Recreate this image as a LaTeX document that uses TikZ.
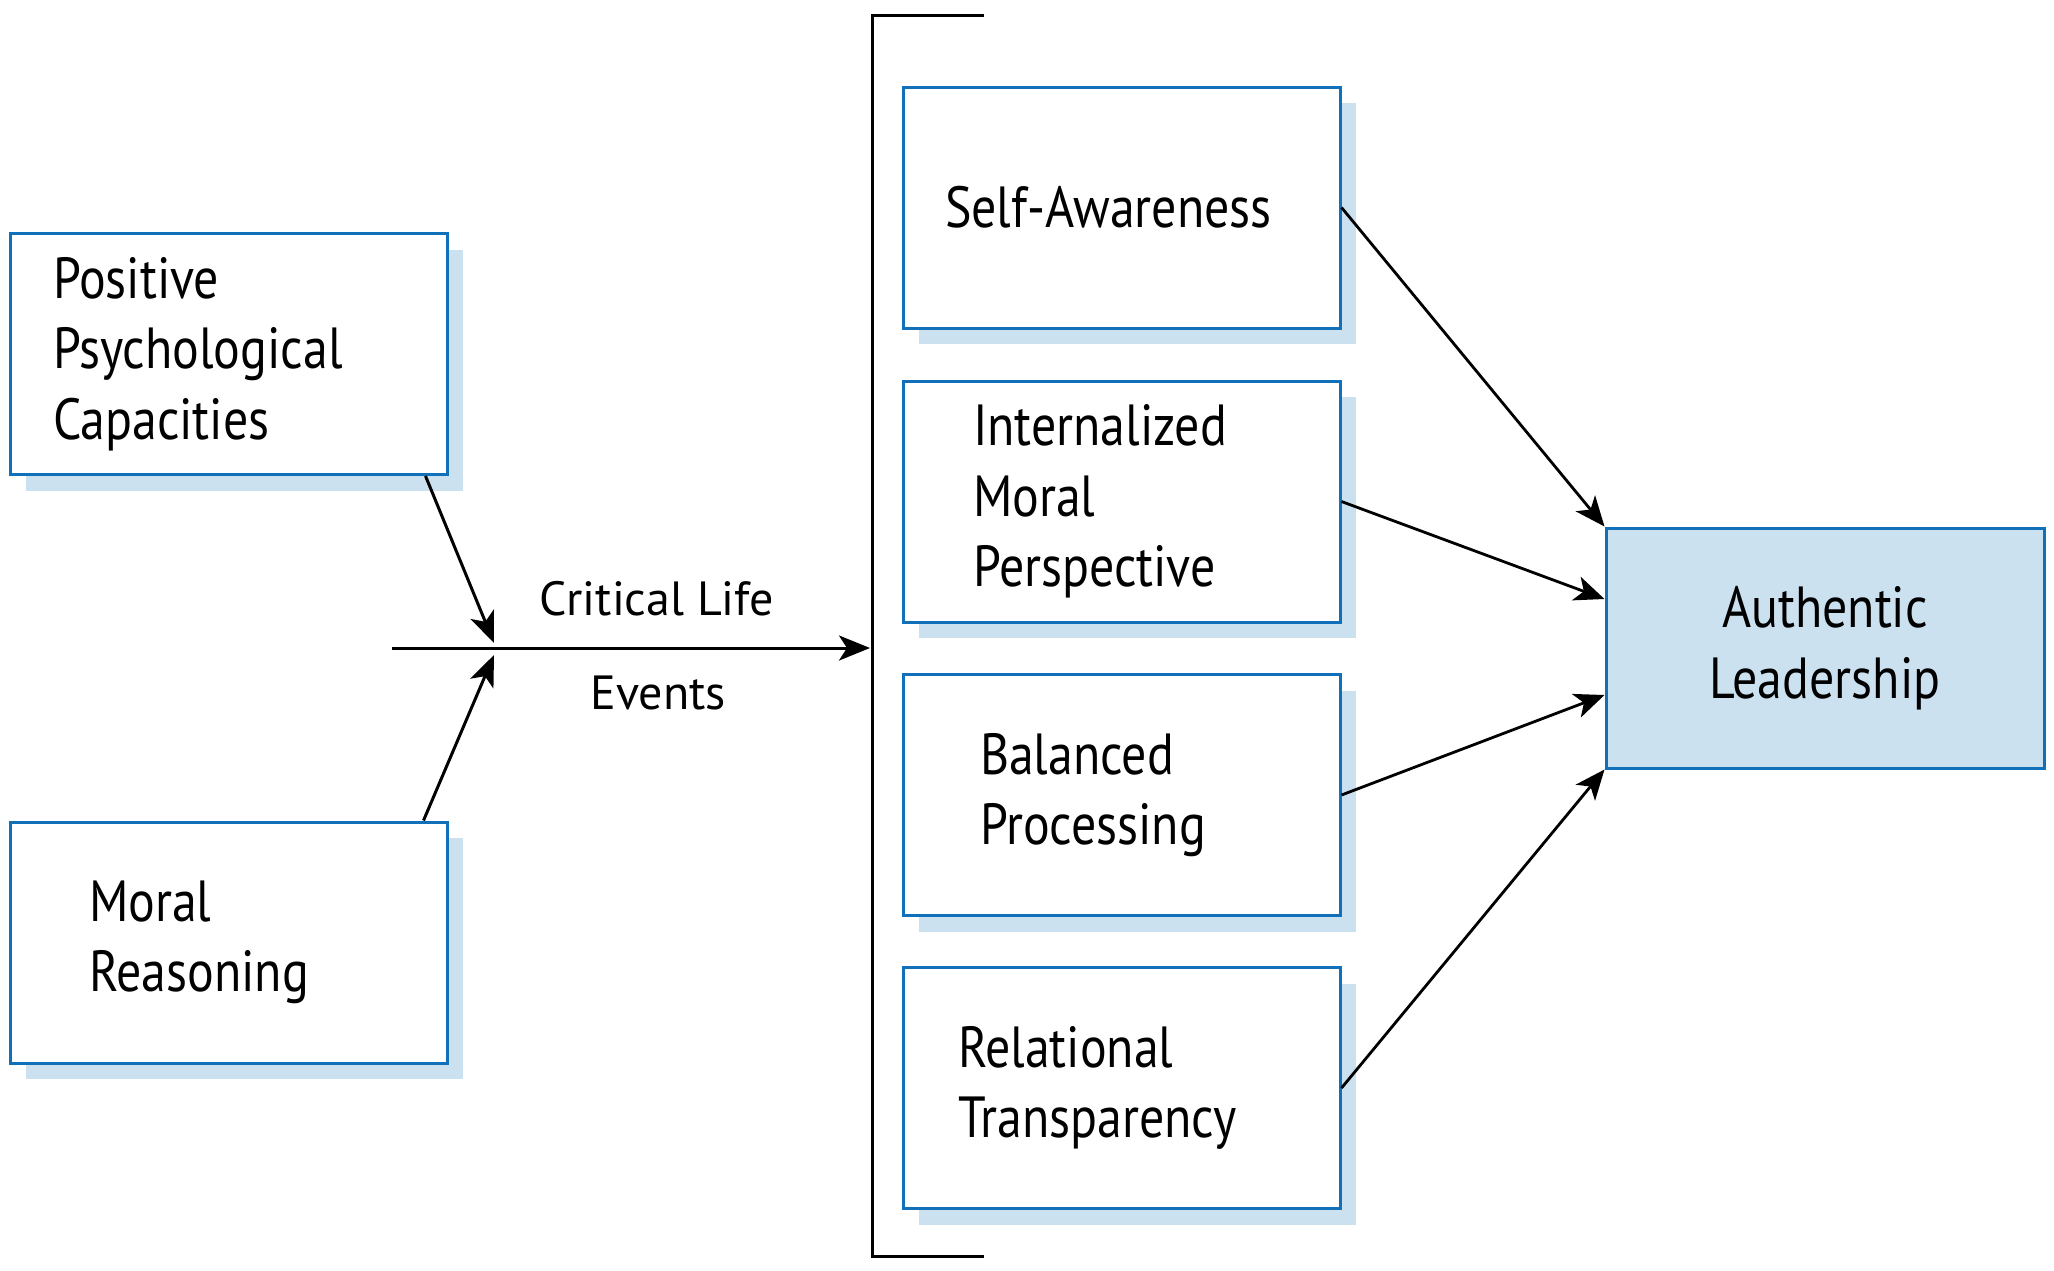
\documentclass[tikz,border=0pt]{standalone}
\usepackage{fontspec}
\setmainfont{PT Sans}
\newfontfamily\boxfam{PT Sans}[FakeStretch=0.86]
\usetikzlibrary{arrows.meta,shadows}
\definecolor{boxblue}{RGB}{16,112,186}
\definecolor{shadeblue}{RGB}{204,225,240}
\newcommand\boxfont{\boxfam\fontsize{58}{70.5}\selectfont}
\newcommand\labfont{\fontsize{48}{56}\selectfont}
\tikzset{
  factor/.style={draw=boxblue, line width=3pt, fill=white, rectangle,
    minimum width=437pt, minimum height=241pt, inner sep=0pt,
    align=left, font=\boxfont,
    general shadow={fill=shadeblue, shadow xshift=16pt, shadow yshift=-16pt}},
  outcome/.style={draw=boxblue, line width=3pt, fill=shadeblue, rectangle,
    minimum width=438pt, minimum height=240pt, inner sep=0pt,
    align=center, font=\boxfont},
  arr/.style={line width=3pt, -{Stealth[length=31pt,width=25pt,inset=8pt]}},
  thinarr/.style={line width=2.8pt, -{Stealth[length=30pt,width=25pt,inset=8pt]}},
  bracketline/.style={line width=3pt, line cap=butt},
  lab/.style={font=\labfont, inner sep=0pt, anchor=base},
}
\begin{document}
\begin{tikzpicture}[x=1pt,y=-1pt]
\useasboundingbox (0,0) rectangle (2054,1270);

% left factors
\node[factor, text width=351pt] (ppc) at (228.5,354) {Positive\\Psychological\\Capacities};
\node[factor, text width=279pt] (mr) at (228.5,942.5) {Moral\\Reasoning};

% right components
\node[factor, text width=353pt] (sa) at (1121.5,207.5) {\mbox{Self-Awareness}};
\node[factor, text width=297pt] (imp) at (1121.5,501.5) {Internalized\\Moral\\Perspective};
\node[factor, text width=283pt] (bp) at (1121.5,795) {Balanced\\Processing};
\node[factor, text width=327pt] (rt) at (1121.5,1088) {Relational\\Transparency};

% outcome
\node[outcome] (al) at (1825,648) {Authentic\\Leadership};

% bracket
\coordinate (btl) at (984,15);
\coordinate (bt) at (872,15);
\coordinate (bb) at (872,1256);
\coordinate (bbr) at (984,1256);
\draw[bracketline] (btl) -- (bt) -- (bb) -- (bbr);

% critical life events line
\coordinate (cstart) at (392,648);
\coordinate (cend) at (870,648);
\coordinate (j1) at (494,643);
\coordinate (j2) at (494,655);
\draw[arr] (cstart) -- (cend);
\node[lab] (cl) at (657,615) {Critical Life};
\node[lab] (ev) at (658,709) {Events};

\draw[arr] ([xshift=-23pt]ppc.south east) -- (j1);
\draw[arr] ([xshift=-25pt]mr.north east) -- (j2);

% arrows to outcome
\draw[thinarr] (sa.east) -- (al.north west);
\draw[thinarr] (imp.east) -- ([yshift=49pt]al.west);
\draw[thinarr] (bp.east) -- ([yshift=-47pt]al.west);
\draw[thinarr] (rt.east) -- (al.south west);
\end{tikzpicture}
\end{document}
